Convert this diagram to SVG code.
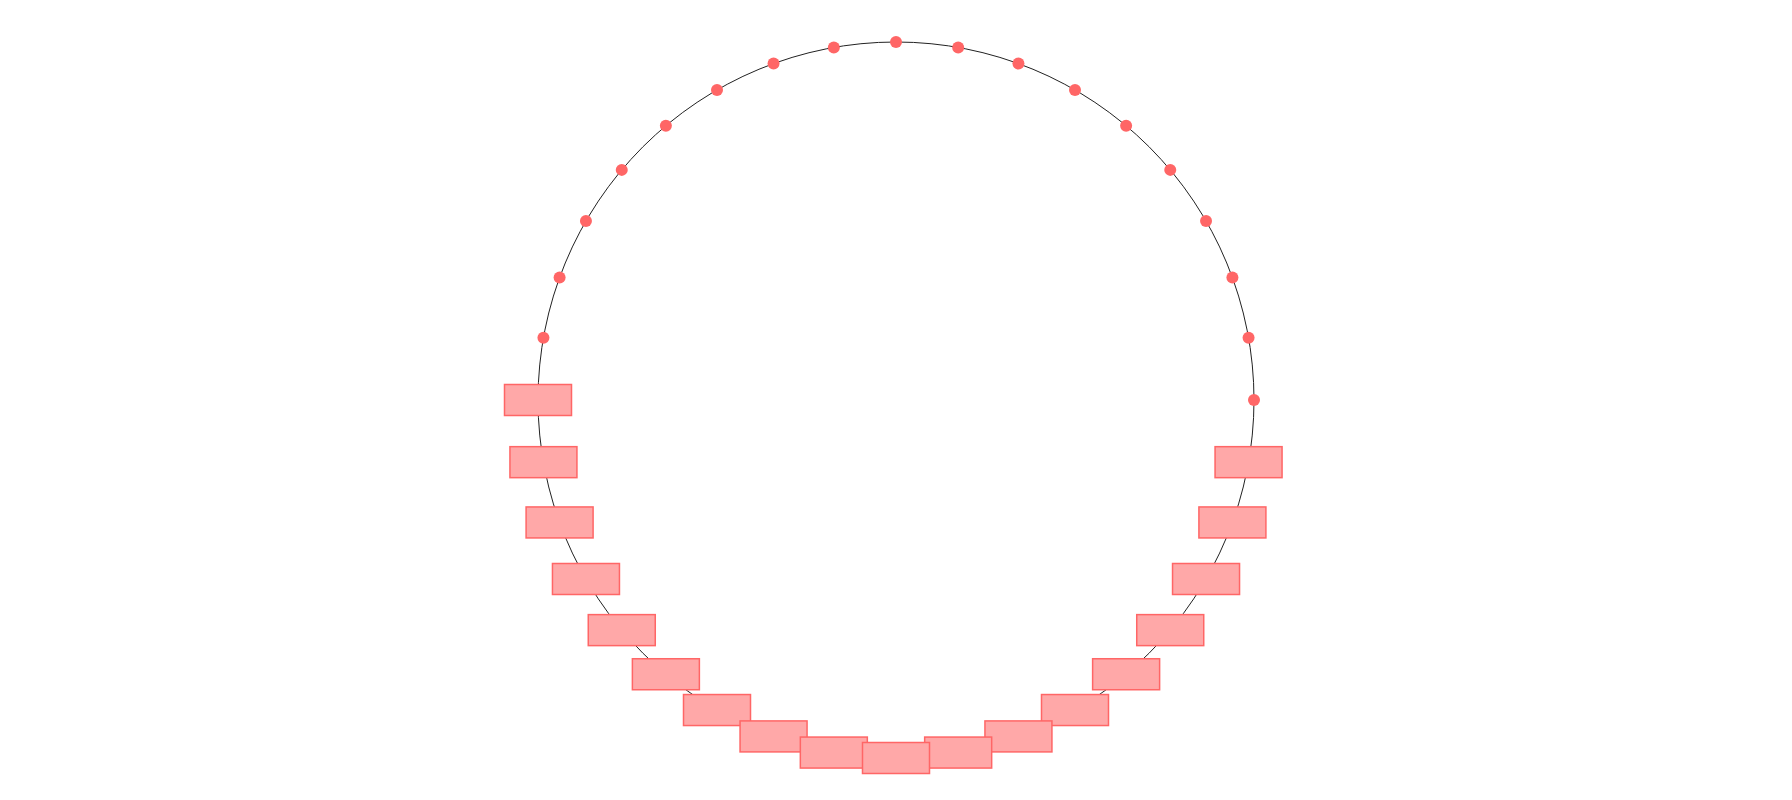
<svg xmlns="http://www.w3.org/2000/svg" width="1792" height="800" viewBox="0 0 1792 800">
<style>
.ring{fill:none;stroke:#222;stroke-width:1}
.dot{fill:#ff6666}
.box{fill:#ffa8a8;stroke:#ff6666;stroke-width:1.5}
</style>
<rect width="1792" height="800" fill="#fff"/>
<g id="connectors"><circle class="ring" cx="896" cy="400" r="358"/></g>
<g id="n0"><circle class="dot" cx="1254" cy="400" r="6"/></g>
<g id="n1"><circle class="dot" cx="1248.56" cy="337.83" r="6"/></g>
<g id="n2"><circle class="dot" cx="1232.41" cy="277.56" r="6"/></g>
<g id="n3"><circle class="dot" cx="1206.04" cy="221" r="6"/></g>
<g id="n4"><circle class="dot" cx="1170.24" cy="169.88" r="6"/></g>
<g id="n5"><circle class="dot" cx="1126.12" cy="125.76" r="6"/></g>
<g id="n6"><circle class="dot" cx="1075" cy="89.96" r="6"/></g>
<g id="n7"><circle class="dot" cx="1018.44" cy="63.59" r="6"/></g>
<g id="n8"><circle class="dot" cx="958.17" cy="47.44" r="6"/></g>
<g id="n9"><circle class="dot" cx="896" cy="42" r="6"/></g>
<g id="n10"><circle class="dot" cx="833.83" cy="47.44" r="6"/></g>
<g id="n11"><circle class="dot" cx="773.56" cy="63.59" r="6"/></g>
<g id="n12"><circle class="dot" cx="717" cy="89.96" r="6"/></g>
<g id="n13"><circle class="dot" cx="665.88" cy="125.76" r="6"/></g>
<g id="n14"><circle class="dot" cx="621.76" cy="169.88" r="6"/></g>
<g id="n15"><circle class="dot" cx="585.96" cy="221" r="6"/></g>
<g id="n16"><circle class="dot" cx="559.59" cy="277.56" r="6"/></g>
<g id="n17"><circle class="dot" cx="543.44" cy="337.83" r="6"/></g>
<g id="b180"><rect class="box" x="504.5" y="384.5" width="67" height="31"/></g>
<g id="b170"><rect class="box" x="509.94" y="446.67" width="67" height="31"/></g>
<g id="b160"><rect class="box" x="526.09" y="506.94" width="67" height="31"/></g>
<g id="b150"><rect class="box" x="552.46" y="563.5" width="67" height="31"/></g>
<g id="b140"><rect class="box" x="588.26" y="614.62" width="67" height="31"/></g>
<g id="b130"><rect class="box" x="632.38" y="658.74" width="67" height="31"/></g>
<g id="b120"><rect class="box" x="683.5" y="694.54" width="67" height="31"/></g>
<g id="b110"><rect class="box" x="740.06" y="720.91" width="67" height="31"/></g>
<g id="b100"><rect class="box" x="800.33" y="737.06" width="67" height="31"/></g>
<g id="b10"><rect class="box" x="1215.06" y="446.67" width="67" height="31"/></g>
<g id="b20"><rect class="box" x="1198.91" y="506.94" width="67" height="31"/></g>
<g id="b30"><rect class="box" x="1172.54" y="563.5" width="67" height="31"/></g>
<g id="b40"><rect class="box" x="1136.74" y="614.62" width="67" height="31"/></g>
<g id="b50"><rect class="box" x="1092.62" y="658.74" width="67" height="31"/></g>
<g id="b60"><rect class="box" x="1041.5" y="694.54" width="67" height="31"/></g>
<g id="b70"><rect class="box" x="984.94" y="720.91" width="67" height="31"/></g>
<g id="b80"><rect class="box" x="924.67" y="737.06" width="67" height="31"/></g>
<g id="b90"><rect class="box" x="862.5" y="742.5" width="67" height="31"/></g>
</svg>
